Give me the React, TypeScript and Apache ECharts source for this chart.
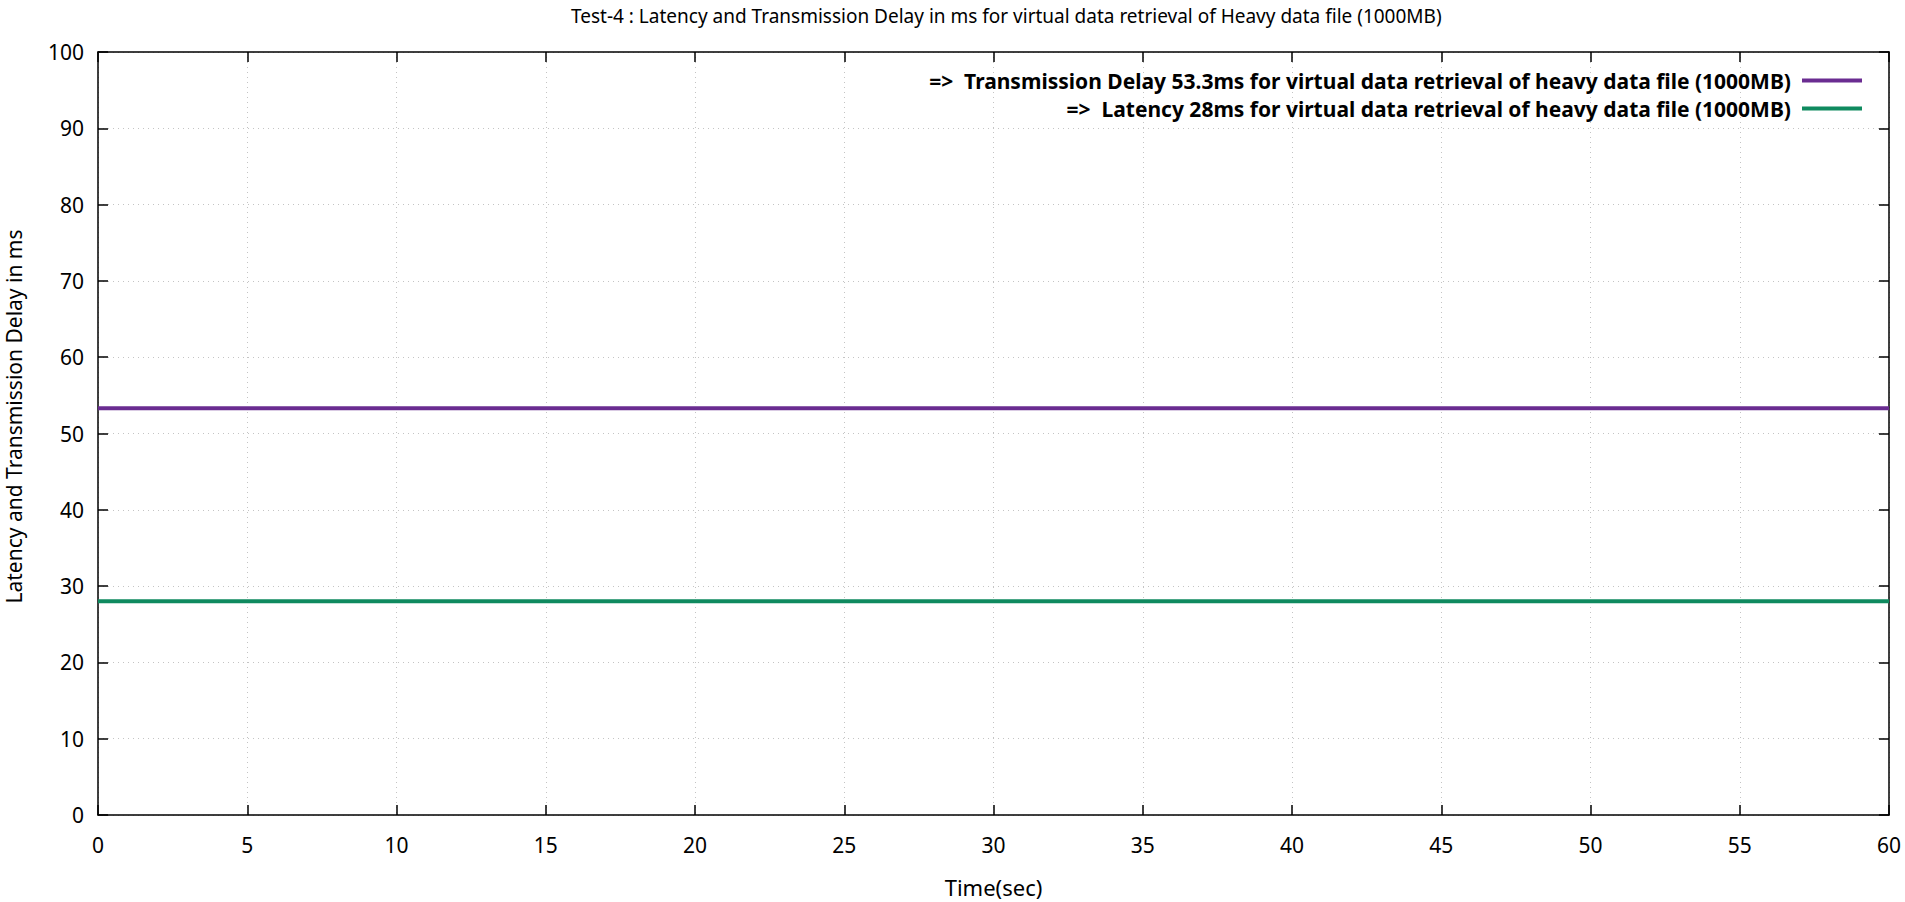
import React, { useEffect, useRef } from "react";
import * as echarts from "echarts";

const titleText = "Test-4 : Latency and Transmission Delay in ms for virtual data retrieval of Heavy data file (1000MB)";
const xAxisName = "Time(sec)";
const yAxisName = "Latency and Transmission Delay in ms";
const timePoints = [0, 60];
const transmissionDelay = [53.3, 53.3];
const latency = [28, 28];
const seriesNames = [
  "=>  Transmission Delay 53.3ms for virtual data retrieval of heavy data file (1000MB)",
  "=>  Latency 28ms for virtual data retrieval of heavy data file (1000MB)",
];
const seriesColors = ["#6a2c91", "#0f8a5f"];

const FONT = "Noto Sans";

export default function App() {
  const ref = useRef<HTMLDivElement>(null);
  useEffect(() => {
    document.body.style.margin = "0";
    const chart = echarts.init(ref.current!, null, { renderer: "svg" });
    const frame = { show: true, onZero: false, lineStyle: { color: "#000", width: 1.5 } };
    const tick = { show: true, inside: true, length: 10, lineStyle: { color: "#000", width: 1.5 } };
    chart.setOption({
      animation: false,
      backgroundColor: "#fff",
      title: {
        text: titleText,
        left: 566,
        top: 1,
        textStyle: { fontFamily: FONT, fontSize: 19, fontWeight: "normal", color: "#000" },
      },
      legend: {
        orient: "vertical",
        right: 38,
        top: 65,
        align: "right",
        itemWidth: 60,
        itemHeight: 4,
        itemGap: 7,
        icon: "rect",
        textStyle: { fontFamily: FONT, fontSize: 21, fontWeight: "bold", color: "#000", padding: [0, 6, 0, 0] },
        data: seriesNames.map((n) => ({ name: n, icon: "rect" })),
      },
      grid: { left: 98, top: 52, right: 16, bottom: 87, outerBoundsMode: "none", containLabel: false },
      xAxis: [
        {
          type: "value",
          min: 0,
          max: 60,
          interval: 5,
          name: xAxisName,
          nameLocation: "middle",
          nameGap: 61,
          nameTextStyle: { fontFamily: FONT, fontSize: 22, color: "#000" },
          axisLine: frame,
          axisTick: tick,
          axisLabel: { fontFamily: FONT, fontSize: 21, color: "#000", margin: 19 },
          splitLine: { show: true, lineStyle: { color: "#c4c4c4", width: 1, type: [1, 4] } },
        },
        {
          type: "value",
          position: "top",
          min: 0,
          max: 60,
          interval: 5,
          axisLine: frame,
          axisTick: tick,
          axisLabel: { show: false },
          splitLine: { show: false },
        },
      ],
      yAxis: [
        {
          type: "value",
          min: 0,
          max: 100,
          interval: 10,
          name: yAxisName,
          nameLocation: "middle",
          nameGap: 74,
          nameTextStyle: { fontFamily: FONT, fontSize: 21, color: "#000", padding: [0, 0, 0, 34] },
          axisLine: frame,
          axisTick: tick,
          axisLabel: { fontFamily: FONT, fontSize: 21, color: "#000", margin: 14 },
          splitLine: { show: true, lineStyle: { color: "#c4c4c4", width: 1, type: [1, 4] } },
        },
        {
          type: "value",
          position: "right",
          min: 0,
          max: 100,
          interval: 10,
          axisLine: frame,
          axisTick: tick,
          axisLabel: { show: false },
          splitLine: { show: false },
        },
      ],
      series: [
        {
          name: seriesNames[0],
          type: "line",
          data: timePoints.map((t, i) => [t, transmissionDelay[i]]),
          showSymbol: false,
          lineStyle: { color: seriesColors[0], width: 4 },
          itemStyle: { color: seriesColors[0] },
        },
        {
          name: seriesNames[1],
          type: "line",
          data: timePoints.map((t, i) => [t, latency[i]]),
          showSymbol: false,
          lineStyle: { color: seriesColors[1], width: 4 },
          itemStyle: { color: seriesColors[1] },
        },
      ],
    });
    return () => chart.dispose();
  }, []);
  return <div ref={ref} style={{ width: 1905, height: 902 }} />;
}
